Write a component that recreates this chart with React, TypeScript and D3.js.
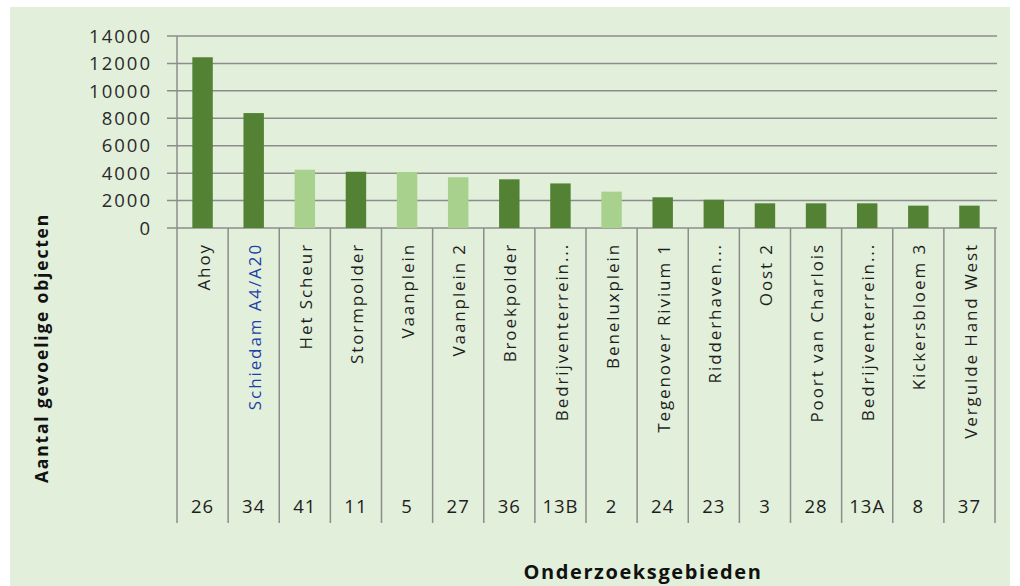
import React from "react";
import * as d3 from "d3";

const categories = [
  "Ahoy", "Schiedam A4/A20", "Het Scheur", "Stormpolder", "Vaanplein", "Vaanplein 2",
  "Broekpolder", "Bedrijventerrein...", "Beneluxplein", "Tegenover Rivium 1", "Ridderhaven...",
  "Oost 2", "Poort van Charlois", "Bedrijventerrein...", "Kickersbloem 3", "Vergulde Hand West",
];
const codes = ["26", "34", "41", "11", "5", "27", "36", "13B", "2", "24", "23", "3", "28", "13A", "8", "37"];
const values = [12450, 8380, 4250, 4100, 4080, 3700, 3550, 3250, 2650, 2240, 2060, 1800, 1800, 1800, 1630, 1630];
const lightBars = [false, false, true, false, true, true, false, false, true, false, false, false, false, false, false, false];
const yTicks = [0, 2000, 4000, 6000, 8000, 10000, 12000, 14000];

const W = 1020, H = 586;
const left = 177, right = 995, top = 36, bottom = 228, tableBottom = 523;
const font = "'Open Sans', 'Liberation Sans', sans-serif";

export default function App() {
  const x = d3.scaleBand<number>().domain(d3.range(categories.length)).range([left, right]);
  const y = d3.scaleLinear().domain([0, 14000]).range([bottom, top]);
  const bw = x.bandwidth();
  const barW = bw * 0.4;
  const boundaries = d3.range(categories.length + 1).map((i) => left + i * bw);

  return (
    <svg width={W} height={H} style={{ position: "absolute", left: 0, top: 0 }}>
      <rect x={0} y={0} width={W} height={H} fill="#ffffff" />
      <rect x={10} y={7} width={1000} height={H - 7} fill="#E2EFDA" />
      {yTicks.map((t) => (
        <g key={t}>
          <line x1={167} x2={997} y1={y(t)} y2={y(t)} stroke="#8c8c8c" strokeWidth={1.5} />
          <text x={152} y={y(t)} dy="0.36em" textAnchor="end" fontFamily={font} fontSize={18.5}
            letterSpacing={2} fill="#2a2a2a">{t}</text>
        </g>
      ))}
      <line x1={left} x2={left} y1={top} y2={bottom} stroke="#8c8c8c" strokeWidth={1.5} />
      {boundaries.map((bx, i) => (
        <line key={i} x1={bx} x2={bx} y1={bottom} y2={tableBottom} stroke="#8c8c8c" strokeWidth={1.5} />
      ))}
      {values.map((v, i) => (
        <rect key={i} x={(x(i) as number) + (bw - barW) / 2} y={y(v)} width={barW} height={y(0) - y(v)}
          fill={lightBars[i] ? "#A9D18E" : "#548235"} />
      ))}
      {categories.map((c, i) => {
        const cx = (x(i) as number) + bw / 2 + 1;
        return (
          <text key={i} transform={`translate(${cx},243) rotate(-90)`} textAnchor="end" dy="0.36em"
            fontFamily={font} fontSize={17} letterSpacing={1.9}
            fill={i === 1 ? "#1f3fa8" : "#1e1e1e"}>{c}</text>
        );
      })}
      {codes.map((c, i) => (
        <text key={i} x={(x(i) as number) + bw / 2} y={506} dy="0.36em" textAnchor="middle"
          fontFamily={font} fontSize={18.5} letterSpacing={1} fill="#1e1e1e">{c}</text>
      ))}
      <text transform="translate(42,348) rotate(-90)" textAnchor="middle" dy="0.36em" fontFamily={font}
        fontSize={17.5} fontWeight="bold" letterSpacing={1.8} fill="#111">Aantal gevoelige objecten</text>
      <text x={643} y={572} dy="0.36em" textAnchor="middle" fontFamily={font} fontSize={20}
        fontWeight="bold" letterSpacing={1.6} fill="#111">Onderzoeksgebieden</text>
    </svg>
  );
}
